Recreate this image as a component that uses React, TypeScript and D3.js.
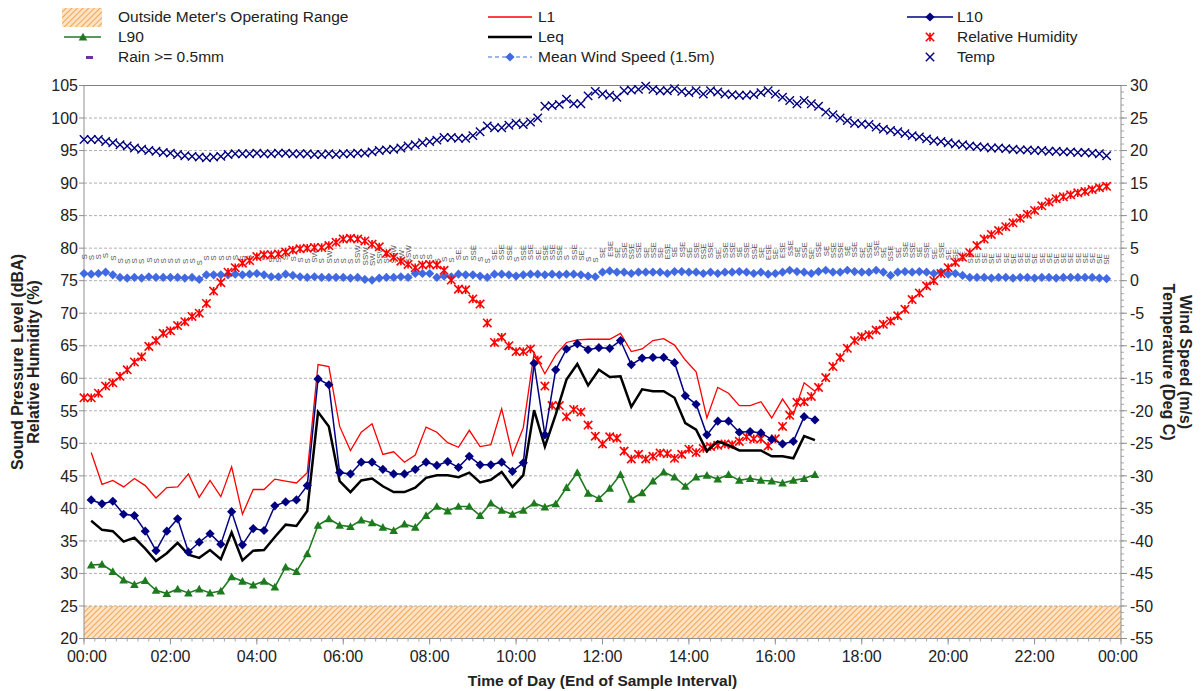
import React from "react";
import * as d3 from "d3";

// ---------- data ----------
const xTickLabels = ["00:00","02:00","04:00","06:00","08:00","10:00","12:00","14:00","16:00","18:00","20:00","22:00","00:00"];
const leftTicks = [20,25,30,35,40,45,50,55,60,65,70,75,80,85,90,95,100,105];
const rightTicks = [-55,-50,-45,-40,-35,-30,-25,-20,-15,-10,-5,0,5,10,15,20,25,30];

// Sound data: 15-minute samples, first sample ends at 00:10
const SOUND_START = 10;
const SOUND_STEP = 15;
const L1 = [48.6,43.7,44.3,43.3,44.6,43.5,41.6,43.2,43.3,45.3,41.7,44.3,41.8,46.4,39.1,42.9,42.9,44.5,44.2,43.9,45.5,62.1,61.8,52.6,48.9,51.7,53.0,48.3,48.7,47.1,48.2,52.5,51.7,50.1,49.4,52.0,49.5,49.8,55.3,48.2,52.4,63.9,60.7,63.6,65.5,65.9,66.0,66.0,66.0,66.9,64.1,64.5,65.8,66.1,65.1,62.8,61.0,53.9,58.6,57.7,55.8,55.8,56.4,53.9,56.8,54.4,59.3,58.0];
const L10 = [41.3,40.7,41.1,39.1,38.9,36.5,33.5,36.5,38.4,33.3,34.8,36.1,34.5,39.5,34.4,36.9,36.6,40.4,41.0,41.3,43.5,59.9,59.0,45.5,45.3,47.1,47.1,46.0,45.3,45.3,46.0,47.1,46.6,47.2,46.3,48.0,46.7,46.7,47.1,45.7,47.0,62.3,51.3,61.3,64.5,65.3,64.4,64.7,64.6,65.8,62.1,63.1,63.2,63.2,62.4,57.3,56.0,51.3,53.4,53.4,51.7,51.8,51.6,50.6,49.9,50.3,54.1,53.6];
const LEQ = [38.1,36.7,36.5,34.9,35.5,33.8,31.9,33.1,34.7,32.9,32.4,33.6,32.2,36.3,32.0,33.5,33.6,35.6,37.5,37.3,39.6,54.8,52.6,44.2,42.5,44.3,44.6,43.4,42.5,42.5,43.2,44.7,45.1,45.1,44.8,45.5,44.0,44.4,45.6,43.3,45.1,55.1,49.5,54.4,59.8,62.2,58.9,61.3,60.2,60.3,55.6,58.3,58.0,58.0,57.0,53.1,52.1,48.8,50.3,49.7,48.9,48.9,48.9,48.0,48.0,47.7,51.1,50.5];
const L90 = [31.3,31.4,30.3,29.0,28.3,28.9,27.4,26.9,27.6,27.0,27.6,27.0,27.3,29.5,28.8,28.2,28.8,27.9,31.0,30.3,33.0,37.4,38.4,37.4,37.2,38.2,37.8,37.1,36.6,37.6,37.1,38.9,40.3,39.6,40.3,40.3,38.9,40.8,39.7,39.1,39.7,40.8,40.2,40.7,43.2,45.5,42.3,41.5,43.1,45.2,41.4,42.4,44.2,45.6,44.8,43.4,44.8,45.1,44.5,45.2,44.3,44.6,44.3,44.2,43.9,44.3,44.6,45.2];

// Weather data: 10-minute samples from 00:00
const WX_STEP = 10;
const RH = [57.0,57.0,57.7,58.8,59.3,60.3,61.3,62.5,63.3,64.9,65.8,66.9,67.3,68.1,68.7,69.5,70.0,71.5,73.4,74.7,76.3,77.0,77.7,78.1,78.7,79.0,79.0,79.1,79.4,79.7,79.9,80.0,80.1,80.1,80.4,80.9,81.4,81.5,81.4,81.1,80.6,80.2,79.2,78.6,78.0,77.5,77.0,77.4,77.5,77.4,76.6,75.1,73.7,73.6,72.2,71.4,68.5,65.5,66.3,65.0,64.1,64.1,64.5,62.8,58.8,55.8,55.8,54.1,55.2,54.8,52.8,51.1,49.9,51.0,50.8,48.8,47.6,48.3,47.6,48.0,48.5,48.4,47.7,48.3,49.1,48.6,49.2,49.5,49.7,49.9,49.8,50.3,51.0,50.7,50.7,49.6,50.7,52.6,54.3,56.3,56.4,57.2,58.6,60.1,61.8,63.2,64.6,65.8,66.4,66.7,67.4,68.3,68.8,69.6,70.6,72.1,73.1,74.2,75.0,76.1,77.0,77.8,78.6,79.3,80.4,81.4,82.1,82.7,83.3,83.9,84.6,85.2,85.8,86.5,87.1,87.6,87.9,88.2,88.5,88.7,89.0,89.3,89.5];
const TEMP = [21.7,21.7,21.7,21.4,21.2,20.9,20.7,20.4,20.2,20.0,19.9,19.7,19.6,19.4,19.2,19.1,19.0,18.9,19.0,19.1,19.4,19.5,19.5,19.5,19.6,19.5,19.5,19.6,19.6,19.5,19.5,19.5,19.4,19.4,19.5,19.4,19.5,19.5,19.6,19.6,19.8,20.0,20.1,20.2,20.4,20.7,20.9,21.2,21.4,21.6,22.0,22.0,21.9,21.9,22.3,22.9,23.8,23.5,23.5,23.9,24.2,24.0,24.4,25.0,26.8,26.9,27.1,27.9,27.2,27.2,28.4,29.1,28.7,28.5,28.2,29.2,29.3,29.4,29.9,29.4,29.2,29.2,29.5,29.1,28.9,29.2,28.7,29.2,29.0,28.7,28.6,28.5,28.5,28.6,28.9,29.2,28.7,28.2,27.7,27.2,27.7,27.2,26.8,25.9,25.5,25.0,24.6,24.2,24.1,24.0,23.6,23.3,23.1,22.9,22.6,22.3,22.1,21.8,21.5,21.4,21.2,21.0,20.9,20.7,20.6,20.5,20.4,20.4,20.3,20.2,20.1,20.1,20.0,20.0,19.9,19.9,19.8,19.8,19.7,19.7,19.6,19.5,19.2];
const WIND = [1.1,1.0,1.1,1.3,0.9,0.5,0.4,0.5,0.4,0.6,0.5,0.5,0.5,0.5,0.4,0.5,0.2,0.9,0.9,0.9,0.9,1.0,0.9,1.0,1.1,0.9,0.6,0.6,1.0,0.8,0.6,0.5,0.6,0.5,0.5,0.5,0.5,0.4,0.5,0.2,0.1,0.4,0.5,0.5,0.6,0.5,1.1,1.1,1.1,0.5,0.7,0.6,1.0,0.9,0.9,0.7,0.5,1.0,1.0,0.9,0.7,0.9,1.0,1.0,0.9,1.0,0.9,1.0,1.0,0.9,0.7,0.6,1.3,1.5,1.3,1.3,1.1,1.3,1.3,1.3,1.3,1.1,1.4,1.4,1.3,1.3,1.1,1.3,1.1,1.3,1.3,1.4,1.3,1.1,1.3,1.0,1.1,1.3,1.6,1.4,1.3,1.1,1.4,1.6,1.3,1.3,1.6,1.4,1.3,1.3,1.6,1.3,0.8,1.3,1.4,1.3,1.4,1.3,1.1,1.3,1.0,1.1,0.8,0.5,0.5,0.5,0.4,0.5,0.5,0.4,0.5,0.5,0.4,0.5,0.5,0.4,0.5,0.5,0.5,0.5,0.5,0.4,0.3];
const DIR = [
  "S","S","S","S","S","S","S","S","S","S","S","S","S","S","S","S","S","S","S","S","S","S","S","S","S","S","S","S","S","S","S","S",
  "SW","S","SW","S","S","S","SSW","SSW","SW","SSW","SW","SSW","SW","SSW","S","S","S","S","S","S",
  "SE","S","SSE","S","S","SE","SSE","SSE","S","SSE","SSE","SE","SSE","SSE","SSE","S","SSE","SE","S","S",
  "SE","ESE","SE","SSE","SSE","SSE","SE","SSE","SE","ESE","SE","SSE","SE","SSE","SSE","SSE","SE","SSE","SSE","SE","SSE","SSE","SE","ESE","SE","ESE","SSE","SE","SSE","SE",
  "SSE","SE","SSE","SSE","SE","SSE","SE","SSE","SSE","SE","SSE","SE","SSE","SSE","SE","SSE","SE","SSE","SE","SE","SE","SE","SE","SE","SE","SE","SE","SE","SE","SE","SE","SE","SE","SE","SE","SE","SE","SE","SE","SE","SE"
];

// ---------- geometry ----------
const X0 = 84, X1 = 1121, YT = 85.5, YB = 638.5;
const FONT = "'Liberation Sans', Arial, sans-serif";

const diamond = (cx: number, cy: number, r: number) => `M${cx},${cy - r}L${cx + r},${cy}L${cx},${cy + r}L${cx - r},${cy}Z`;
const triangle = (cx: number, cy: number, r: number) => `M${cx},${cy - r}L${cx + r},${cy + r * 0.8}L${cx - r},${cy + r * 0.8}Z`;
const cross = (cx: number, cy: number, r: number) => `M${cx - r},${cy - r}L${cx + r},${cy + r}M${cx - r},${cy + r}L${cx + r},${cy - r}`;
const star = (cx: number, cy: number, r: number) => `${cross(cx, cy, r)}M${cx},${cy - r}L${cx},${cy + r}`;

export default function App() {
  const x = d3.scaleLinear().domain([0, 1440]).range([X0, X1]);
  const yL = d3.scaleLinear().domain([20, 105]).range([YB, YT]);
  const yR = d3.scaleLinear().domain([-55, 30]).range([YB, YT]);
  const soundT = L1.map((_, i) => SOUND_START + i * SOUND_STEP);
  const wxT = TEMP.map((_, i) => i * WX_STEP);

  const mk = (times: number[], y: (v: number) => number) =>
    d3.line<number>().x((_, i) => x(times[i])).y((d) => y(d));

  const soundLine = mk(soundT, yL);
  const windLine = mk(wxT, yR);

  const majorX = d3.range(0, 1441, 120);
  const minorX = d3.range(0, 1441, 15);
  const minorR = d3.range(-55, 31, 1);
  const midY = (YT + YB) / 2;

  return (
    <svg width={1204} height={691} style={{ position: "absolute", left: 0, top: 0, background: "#fff" }} fontFamily={FONT}>
      <defs>
        <pattern id="hatch" width="4" height="4" patternUnits="userSpaceOnUse" patternTransform="rotate(45)">
          <rect width="4" height="4" fill="#fde2c4" />
          <line x1="0" y1="0" x2="0" y2="4" stroke="#f09a40" strokeWidth="1.7" />
        </pattern>
      </defs>
      <rect x={0} y={0} width={1204} height={691} fill="#fff" />

      {/* hatched range */}
      <rect x={X0} y={yL(25)} width={X1 - X0} height={yL(20) - yL(25)} fill="url(#hatch)" />

      {/* grid */}
      {leftTicks.filter((t) => t > 20 && t < 105).map((t) => (
        <line key={"g" + t} x1={X0} x2={X1} y1={yL(t)} y2={yL(t)} stroke="#9a9a9a" strokeWidth={0.8} strokeDasharray="3,2" />
      ))}
      <line x1={X0} x2={X1} y1={YT} y2={YT} stroke="#808080" strokeWidth={1.2} />

      {/* axes */}
      <line x1={X0} x2={X0} y1={YT} y2={YB} stroke="#909090" strokeWidth={1} />
      <line x1={X1} x2={X1} y1={YT} y2={YB} stroke="#909090" strokeWidth={1} />
      <line x1={X0} x2={X1} y1={YB} y2={YB} stroke="#909090" strokeWidth={1} />
      {leftTicks.map((t) => (
        <g key={"lt" + t}>
          <line x1={X0 - 5} x2={X0} y1={yL(t)} y2={yL(t)} stroke="#909090" />
          <text x={X0 - 6} y={yL(t)} dy="0.36em" textAnchor="end" fontSize={16} fill="#222">{t}</text>
        </g>
      ))}
      {minorR.map((t) => (
        <line key={"rm" + t} x1={X1} x2={X1 + 3} y1={yR(t)} y2={yR(t)} stroke="#909090" strokeWidth={0.8} />
      ))}
      {rightTicks.map((t) => (
        <g key={"rt" + t}>
          <line x1={X1} x2={X1 + 6} y1={yR(t)} y2={yR(t)} stroke="#909090" />
          <text x={X1 + 9} y={yR(t)} dy="0.36em" textAnchor="start" fontSize={16} fill="#222">{t}</text>
        </g>
      ))}
      {minorX.map((t) => (
        <line key={"xm" + t} x1={x(t)} x2={x(t)} y1={YB} y2={YB + 3} stroke="#909090" strokeWidth={0.8} />
      ))}
      {majorX.map((t, i) => (
        <g key={"xt" + t}>
          <line x1={x(t)} x2={x(t)} y1={YB} y2={YB + 6} stroke="#909090" />
          <text x={x(t) + (i === 0 ? 3 : i === 12 ? -3 : 0)} y={YB + 23} textAnchor="middle" fontSize={16} fill="#222">{xTickLabels[i]}</text>
        </g>
      ))}

      {/* axis titles */}
      <g fontWeight="bold" fill="#222">
        <text transform={`translate(22.5,${midY}) rotate(-90)`} textAnchor="middle" fontSize={16}>Sound Pressure Level (dBA)</text>
        <text transform={`translate(38.5,${midY}) rotate(-90)`} textAnchor="middle" fontSize={16}>Relative Humidity (%)</text>
        <text transform={`translate(1180,${midY}) rotate(90)`} textAnchor="middle" fontSize={16}>Wind Speed (m/s)</text>
        <text transform={`translate(1163,${midY}) rotate(90)`} textAnchor="middle" fontSize={16}>Temperature (Deg C)</text>
        <text x={(X0 + X1) / 2} y={686} textAnchor="middle" fontSize={15.5}>Time of Day (End of Sample Interval)</text>
      </g>

      {/* wind direction labels */}
      <g fontSize={8} fill="#555">
        {DIR.map((d, i) => (
          <text key={"d" + i} transform={`translate(${x(wxT[i])},${yR(WIND[i]) - 14}) rotate(-90)`} dy="0.35em" textAnchor="start">{d}</text>
        ))}
      </g>

      {/* wind speed */}
      <path d={windLine(WIND) || ""} fill="none" stroke="#4169e1" strokeWidth={1.2} strokeDasharray="4,3" />
      {WIND.map((v, i) => (
        <path key={"w" + i} d={diamond(x(wxT[i]), yR(v), 4.6)} fill="#4169e1" />
      ))}

      {/* temperature */}
      {TEMP.map((v, i) => (
        <path key={"t" + i} d={cross(x(wxT[i]), yR(v), 4.2)} stroke="#000080" strokeWidth={1.4} fill="none" />
      ))}

      {/* RH */}
      {RH.map((v, i) => (
        <path key={"h" + i} d={star(x(wxT[i]), yL(v), 4.2)} stroke="#ff0000" strokeWidth={1.6} fill="none" />
      ))}

      {/* sound levels */}
      <path d={soundLine(L1) || ""} fill="none" stroke="#ff0000" strokeWidth={1.3} />
      <path d={soundLine(LEQ) || ""} fill="none" stroke="#000" strokeWidth={2.5} />
      <path d={soundLine(L90) || ""} fill="none" stroke="#1e7a1e" strokeWidth={1.6} />
      {L90.map((v, i) => (
        <path key={"l90" + i} d={triangle(x(soundT[i]), yL(v), 4.3)} fill="#1e7a1e" />
      ))}
      <path d={soundLine(L10) || ""} fill="none" stroke="#000080" strokeWidth={1.5} />
      {L10.map((v, i) => (
        <path key={"l10" + i} d={diamond(x(soundT[i]), yL(v), 4.6)} fill="#000080" />
      ))}

      {/* legend */}
      <g fontSize={15.5} fill="#222">
        <rect x={62} y={8} width={40} height={19} fill="url(#hatch)" />
        <text x={118} y={22}>Outside Meter's Operating Range</text>
        <line x1={488} x2={532} y1={17} y2={17} stroke="#ff0000" strokeWidth={1.5} />
        <text x={538} y={22}>L1</text>
        <line x1={907} x2={953} y1={17} y2={17} stroke="#000080" strokeWidth={1.5} />
        <path d={diamond(930, 17, 4.6)} fill="#000080" />
        <text x={957} y={22}>L10</text>

        <line x1={64} x2={101} y1={37} y2={37} stroke="#1e7a1e" strokeWidth={1.6} />
        <path d={triangle(83, 37, 4.3)} fill="#1e7a1e" />
        <text x={118} y={42}>L90</text>
        <line x1={488} x2={532} y1={37} y2={37} stroke="#000" strokeWidth={2.5} />
        <text x={538} y={42}>Leq</text>
        <path d={star(930, 37, 4.2)} stroke="#ff0000" strokeWidth={1.6} fill="none" />
        <text x={957} y={42}>Relative Humidity</text>

        <rect x={86} y={56} width={7} height={3} fill="#7030a0" />
        <text x={118} y={62}>Rain &gt;= 0.5mm</text>
        <line x1={488} x2={532} y1={57} y2={57} stroke="#4169e1" strokeWidth={1.2} strokeDasharray="4,3" />
        <path d={diamond(510, 57, 4.6)} fill="#4169e1" />
        <text x={538} y={62}>Mean Wind Speed (1.5m)</text>
        <path d={cross(930, 57, 4.2)} stroke="#000080" strokeWidth={1.4} fill="none" />
        <text x={957} y={62}>Temp</text>
      </g>
    </svg>
  );
}
